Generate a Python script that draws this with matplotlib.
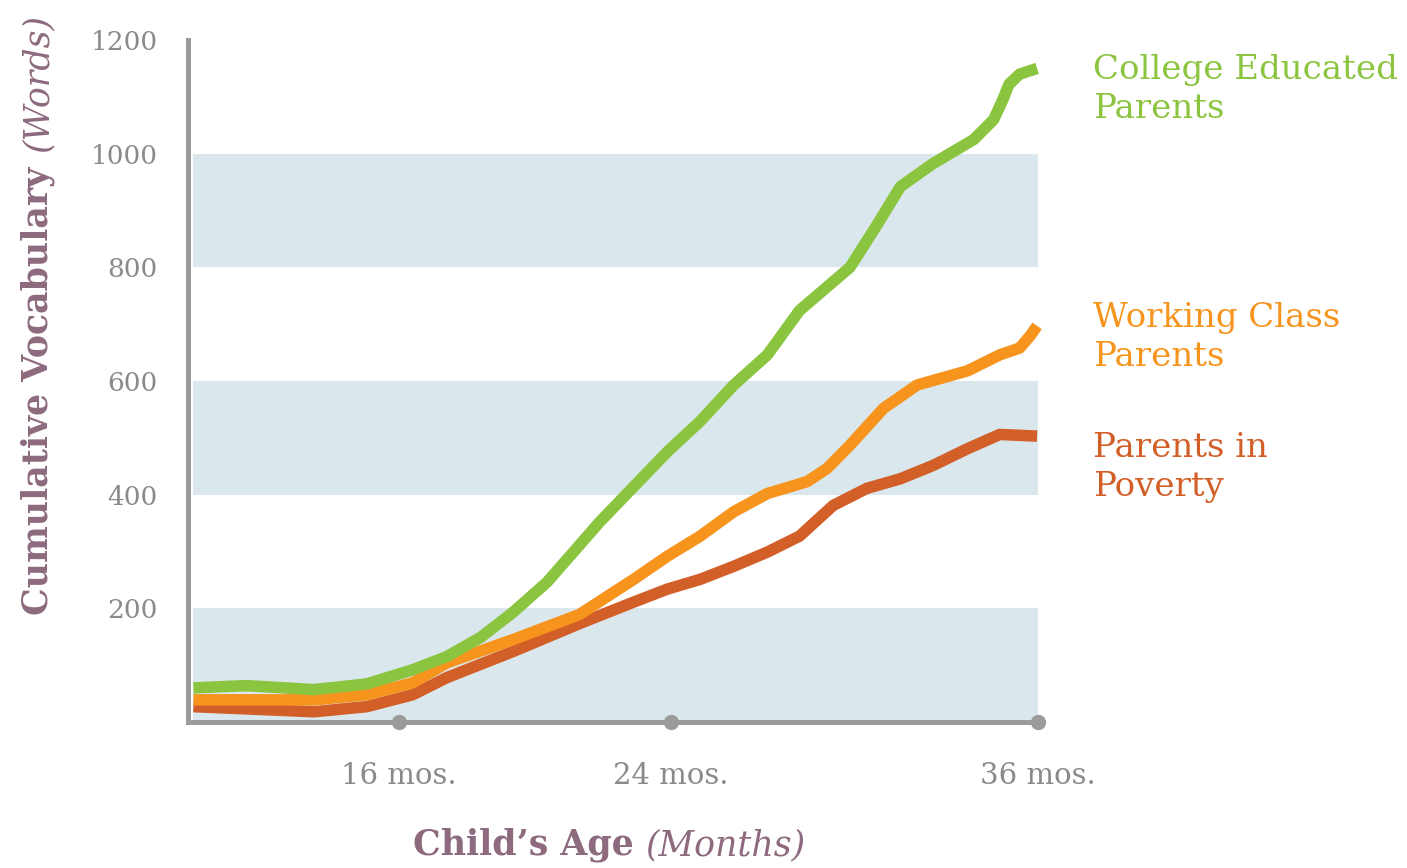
import numpy as np
import matplotlib
matplotlib.use('Agg')
from matplotlib import pyplot as plt

# Cumulative vocabulary (words) by child's age (months)
college_age = [9.95, 11.5, 13.5, 15.05, 16.4, 17.4, 18.4, 19.35, 20.35, 20.95, 21.9, 23.9,
               24.95, 26.05, 27.15, 28.2, 29.85, 30.75, 31.5, 32.55, 33.9, 34.55, 34.85,
               35.05, 35.4, 35.97]
college_words = [60, 64, 57, 67, 92, 115, 149, 193, 246, 287, 352, 476,
                 529, 593, 646, 724, 800, 876, 942, 982, 1025, 1060, 1095,
                 1122, 1140, 1150]

working_age = [9.95, 13.5, 15.05, 16.4, 17.4, 19.35, 21.3, 22.9, 23.9, 24.95, 26.05,
               27.15, 28.45, 29.1, 29.85, 30.95, 32.05, 33.7, 34.75, 35.4, 35.75, 35.97]
working_words = [39, 39, 48, 69, 104, 145, 189, 251, 292, 327, 370,
                 402, 423, 446, 487, 552, 593, 618, 646, 658, 680, 697]

poverty_age = [9.95, 13.5, 15.05, 16.4, 17.4, 19.35, 21.3, 22.9, 23.9, 24.95, 26.05,
               27.15, 28.2, 29.3, 30.4, 31.5, 32.55, 33.7, 34.75, 35.97]
poverty_words = [27, 18, 27, 48, 78, 124, 173, 211, 234, 251, 274,
                 299, 327, 381, 411, 428, 451, 481, 506, 503]

tick_months = [16, 24, 36]
tick_labels = ['16 mos.', '24 mos.', '36 mos.']
y_ticks = [200, 400, 600, 800, 1000, 1200]

green = '#8BC43F'
orange = '#F7941D'
rust = '#D25E28'
grey = '#9B9B9B'
mauve = '#8D6A7E'
band = '#DAE7EC'

serif = ['DejaVu Serif Condensed', 'DejaVu Serif']


# the month axis is stretched a little before 24 months
def fwd(x):
    x = np.asarray(x, dtype=float)
    return np.where(x < 24, (x - 24) * 34.0, (x - 24) * 30.58)


def inv(p):
    p = np.asarray(p, dtype=float)
    return np.where(p < 0, p / 34.0 + 24, p / 30.58 + 24)


W, H = 1407, 868
fig = plt.figure(figsize=(W / 100, H / 100), dpi=100)
ax = fig.add_axes([188 / W, (H - 722) / H, (1038 - 188) / W, 682 / H])
ax.set_xscale('function', functions=(fwd, inv))
ax.set_xlim(9.79, 36)
ax.set_ylim(0, 1200)

# light bands behind the lines
for lo in (0, 400, 800):
    ax.axhspan(lo, lo + 200, xmin=0.006, xmax=1, color=band, lw=0, zorder=0)

lw = 8.3
ax.plot(poverty_age, poverty_words, color=rust, lw=lw, solid_capstyle='butt',
        solid_joinstyle='round', zorder=3, clip_on=False)
ax.plot(working_age, working_words, color=orange, lw=lw, solid_capstyle='butt',
        solid_joinstyle='round', zorder=4, clip_on=False)
ax.plot(college_age, college_words, color=green, lw=lw, solid_capstyle='butt',
        solid_joinstyle='round', zorder=5, clip_on=False)

for side in ('top', 'right'):
    ax.spines[side].set_visible(False)
for side in ('left', 'bottom'):
    ax.spines[side].set_color(grey)
    ax.spines[side].set_linewidth(3.6)
    ax.spines[side].set_zorder(6)

ax.plot(tick_months, [0] * len(tick_months), 'o', color=grey, ms=10,
        clip_on=False, zorder=7)

ax.set_xticks(tick_months)
ax.set_xticklabels(tick_labels)
ax.set_yticks(y_ticks)
ax.tick_params(length=0, colors='#8A8A8A')
ax.tick_params(axis='x', pad=29, labelsize=21)
ax.tick_params(axis='y', pad=22, labelsize=19)
for lab in ax.get_xticklabels() + ax.get_yticklabels():
    lab.set_family(serif)
    lab.set_fontweight('light')

# axis titles: bold name plus italic unit
fig.text(38 / W, (H - 615) / H, 'Cumulative Vocabulary', rotation=90,
         ha='center', va='bottom', color=mauve, fontsize=25,
         fontweight='bold', family=serif)
fig.text(38 / W, (H - 152) / H, '(Words)', rotation=90,
         ha='center', va='bottom', color=mauve, fontsize=25,
         fontstyle='italic', family=serif)
fig.text(413 / W, (H - 845) / H, 'Child\u2019s Age', ha='left', va='center',
         color=mauve, fontsize=25, fontweight='bold', family=serif)
fig.text(645 / W, (H - 845) / H, '(Months)', ha='left', va='center',
         color=mauve, fontsize=25, fontstyle='italic', family=serif)

# series names at the right
fig.text(1093 / W, (H - 54) / H, 'College Educated\nParents', ha='left', va='top',
         color=green, fontsize=24.5, family='DejaVu Serif', linespacing=1.3)
fig.text(1093 / W, (H - 302) / H, 'Working Class\nParents', ha='left', va='top',
         color=orange, fontsize=24.5, family='DejaVu Serif', linespacing=1.3)
fig.text(1093 / W, (H - 432) / H, 'Parents in\nPoverty', ha='left', va='top',
         color=rust, fontsize=24.5, family='DejaVu Serif', linespacing=1.3)

fig.savefig('out.png', dpi=100)
